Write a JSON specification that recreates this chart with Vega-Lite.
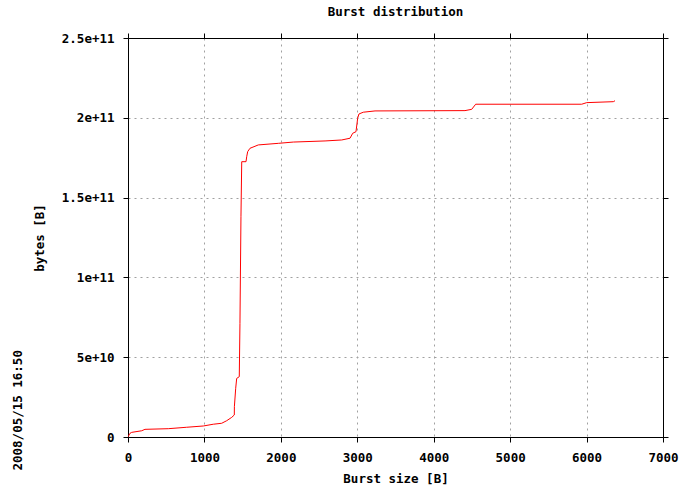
{
  "$schema": "https://vega.github.io/schema/vega-lite/v6.json",
  "width": 535,
  "height": 399,
  "autosize": {"type": "none"},
  "padding": {"left": 128, "top": 38, "right": 19, "bottom": 54},
  "background": "white",
  "title": {
    "text": "Burst distribution",
    "anchor": "middle",
    "frame": "group",
    "offset": 14,
    "font": "DejaVu Sans Mono",
    "fontSize": 12.5,
    "fontWeight": "bold",
    "color": "black"
  },
  "data": {
    "values": [
      {"size": 0, "bytes": 100000000},
      {"size": 26, "bytes": 2300000000},
      {"size": 48, "bytes": 2900000000},
      {"size": 179, "bytes": 3900000000},
      {"size": 222, "bytes": 4800000000},
      {"size": 527, "bytes": 5200000000},
      {"size": 768, "bytes": 6100000000},
      {"size": 985, "bytes": 6900000000},
      {"size": 1116, "bytes": 8000000000},
      {"size": 1226, "bytes": 8600000000},
      {"size": 1291, "bytes": 10200000000},
      {"size": 1357, "bytes": 12300000000},
      {"size": 1391, "bytes": 13800000000},
      {"size": 1392, "bytes": 19000000000},
      {"size": 1409, "bytes": 30500000000},
      {"size": 1422, "bytes": 36700000000},
      {"size": 1456, "bytes": 37800000000},
      {"size": 1465, "bytes": 71200000000},
      {"size": 1478, "bytes": 138000000000},
      {"size": 1488, "bytes": 172500000000},
      {"size": 1544, "bytes": 172500000000},
      {"size": 1553, "bytes": 175600000000},
      {"size": 1566, "bytes": 178800000000},
      {"size": 1596, "bytes": 180900000000},
      {"size": 1705, "bytes": 183000000000},
      {"size": 1967, "bytes": 184000000000},
      {"size": 2163, "bytes": 184800000000},
      {"size": 2578, "bytes": 185500000000},
      {"size": 2796, "bytes": 186100000000},
      {"size": 2905, "bytes": 187200000000},
      {"size": 2940, "bytes": 190300000000},
      {"size": 2983, "bytes": 191300000000},
      {"size": 3005, "bytes": 199700000000},
      {"size": 3022, "bytes": 202400000000},
      {"size": 3079, "bytes": 203500000000},
      {"size": 3232, "bytes": 204300000000},
      {"size": 4409, "bytes": 204500000000},
      {"size": 4497, "bytes": 205300000000},
      {"size": 4549, "bytes": 208500000000},
      {"size": 5936, "bytes": 208500000000},
      {"size": 6002, "bytes": 209500000000},
      {"size": 6350, "bytes": 210100000000},
      {"size": 6372, "bytes": 210700000000}
    ]
  },
  "resolve": {"axis": {"x": "independent", "y": "independent"}},
  "layer": [
    {
      "mark": {"type": "line", "color": "#ff0000", "strokeWidth": 1, "clip": true},
      "encoding": {
        "x": {
          "field": "size",
          "type": "quantitative",
          "scale": {"domain": [0, 7000], "nice": false, "zero": false},
          "axis": {
            "orient": "bottom",
            "title": "Burst size [B]",
            "values": [0, 1000, 2000, 3000, 4000, 5000, 6000, 7000],
            "format": "d",
            "grid": true,
            "domain": true,
            "titleY": 41,
            "titleBaseline": "middle",
            "labelPadding": 9
          }
        },
        "y": {
          "field": "bytes",
          "type": "quantitative",
          "scale": {"domain": [0, 250000000000], "nice": false},
          "axis": {
            "orient": "left",
            "title": "bytes [B]",
            "values": [0, 50000000000, 100000000000, 150000000000, 200000000000, 250000000000],
            "labelExpr": "datum.value == 0 ? '0' : format(datum.value, '.2~e')",
            "grid": true,
            "domain": true,
            "titleX": -89,
            "titleBaseline": "middle",
            "labelPadding": 9
          }
        }
      }
    },
    {
      "mark": {"type": "line", "strokeOpacity": 0},
      "encoding": {
        "x": {
          "field": "size",
          "type": "quantitative",
          "axis": {
            "orient": "top",
            "title": null,
            "labels": false,
            "grid": false,
            "domain": true,
            "zindex": 1,
            "values": [0, 1000, 2000, 3000, 4000, 5000, 6000, 7000]
          }
        },
        "y": {
          "field": "bytes",
          "type": "quantitative",
          "axis": {
            "orient": "right",
            "title": null,
            "labels": false,
            "grid": false,
            "domain": true,
            "zindex": 1,
            "values": [0, 50000000000, 100000000000, 150000000000, 200000000000, 250000000000]
          }
        }
      }
    },
    {
      "mark": {"type": "line", "strokeOpacity": 0},
      "encoding": {
        "x": {"field": "size", "type": "quantitative", "axis": null},
        "y": {
          "field": "bytes",
          "type": "quantitative",
          "axis": {
            "orient": "left",
            "title": "2008/05/15 16:50",
            "labels": false,
            "ticks": false,
            "grid": false,
            "domain": false,
            "titleX": -111,
            "titleY": 432,
            "titleAngle": 270,
            "titleAlign": "left",
            "titleBaseline": "middle"
          }
        }
      }
    }
  ],
  "config": {
    "view": {"stroke": "#000000", "strokeWidth": 1},
    "font": "DejaVu Sans Mono",
    "axis": {
      "domainColor": "#000000",
      "domainWidth": 1,
      "tickColor": "#000000",
      "tickSize": 5,
      "tickWidth": 1,
      "gridColor": "#a0a0a0",
      "gridDash": [2, 4],
      "gridWidth": 1,
      "gridOpacity": 1,
      "labelFont": "DejaVu Sans Mono",
      "labelFontSize": 12.5,
      "labelFontWeight": "bold",
      "labelColor": "#000000",
      "titleFont": "DejaVu Sans Mono",
      "titleFontSize": 12.5,
      "titleFontWeight": "bold",
      "titleColor": "#000000",
      "labelOverlap": false,
      "labelFlush": false
    }
  }
}
